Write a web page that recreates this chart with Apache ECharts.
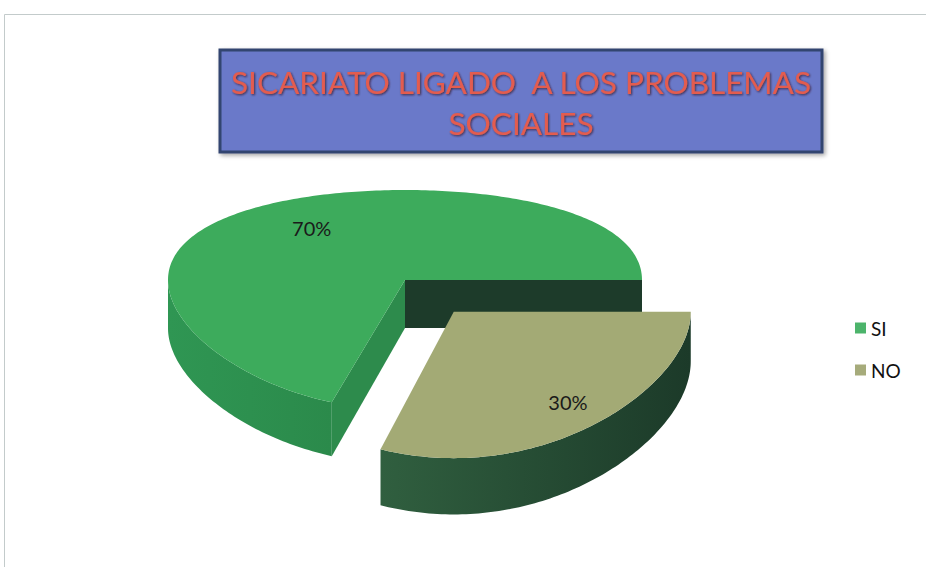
<!DOCTYPE html>
<html>
<head>
<meta charset="utf-8">
<script src="https://cdn.jsdelivr.net/npm/echarts@6/dist/echarts.min.js"></script>
<style>
html,body{margin:0;padding:0;background:#fff;}
#chart{width:926px;height:567px;}
</style>
</head>
<body>
<div id="chart"></div>
<script>
// ---- data ----
const categories = ['SI', 'NO'];
const values = [70, 30];
const titleLines = ['SICARIATO LIGADO  A LOS PROBLEMAS', 'SOCIALES'];

// ---- styles / geometry (not data) ----
const FONT = 'Lato, "Open Sans", sans-serif';
const OX = 405, OY = 280;      // screen position of pie centre (top face)
const RX = 237;                // horizontal radius
const A = 106.4, B = 0.182;    // vertical foreshortening with perspective
const T = 48;                  // thickness at centre
const EXPLODE = [0, 0.35];
const LABEL_R = [0.67, 0.82];
const SLICE_STYLE = [
  {top: '#3dab5c', outer: ['#2f9653', '#2b8a4b'], startWall: '#1d3b2a', endWall: '#2d8b4c'},
  {top: '#a3aa75', outer: ['#305f3f', '#1c3a29'], startWall: '#1d3b2a', endWall: '#2d5b3c'}
];
const LEGEND_COLORS = ['#4cb46b', '#a6ab7b'];

const total = values.reduce((s, v) => s + v, 0);
const startDeg = [], endDeg = [];
{
  let acc = 0;
  values.forEach((v) => {
    startDeg.push(acc / total * 360);
    acc += v;
    endDeg.push(acc / total * 360);
  });
}

function P(X, Zf, bottom) {
  const s = 1 / (1 + B * Zf);
  return [OX + RX * X, OY - A * Zf * s + (bottom ? T * Math.pow(s, 0.6) : 0)];
}

function makeRender(i) {
  return function (params, api) {
    const st = SLICE_STYLE[i];
    const a0 = startDeg[i], a1 = endDeg[i];
    const rad = d => d * Math.PI / 180;
    const mid = rad((a0 + a1) / 2);
    const e = EXPLODE[i];
    const cxw = e * Math.cos(mid), czw = e * Math.sin(mid);
    const pt = (deg, r, bottom) => P(cxw + r * Math.cos(rad(deg)), czw + r * Math.sin(rad(deg)), bottom);
    const children = [];
    const base = params.seriesIndex * 10;

    // radial walls (only those facing the viewer)
    if (Math.sin(rad(a0 - 90)) < 0) {
      children.push({type: 'polygon', z2: base + 1,
        shape: {points: [pt(0, 0, false), pt(a0, 1, false), pt(a0, 1, true), pt(0, 0, true)]},
        style: {fill: st.startWall}});
    }
    if (Math.sin(rad(a1 + 90)) < 0) {
      children.push({type: 'polygon', z2: base + 1,
        shape: {points: [pt(0, 0, false), pt(a1, 1, false), pt(a1, 1, true), pt(0, 0, true)]},
        style: {fill: st.endWall}});
    }
    // outer visible wall (front half)
    const v0 = Math.max(a0, 180), v1 = Math.min(a1, 360);
    if (v1 > v0) {
      const topPts = [], botPts = [];
      for (let d = v0; d <= v1 + 1e-6; d += 1) {
        topPts.push(pt(d, 1, false));
        botPts.push(pt(d, 1, true));
      }
      topPts.push(pt(v1, 1, false)); botPts.push(pt(v1, 1, true));
      children.push({type: 'polygon', z2: base + 2,
        shape: {points: topPts.concat(botPts.reverse())},
        style: {fill: new echarts.graphic.LinearGradient(0, 0, 1, 0, [
          {offset: 0, color: st.outer[0]}, {offset: 1, color: st.outer[1]}])}});
    }
    // top face
    const face = [pt(0, 0, false)];
    for (let d = a0; d <= a1 + 1e-6; d += 1) face.push(pt(d, 1, false));
    face.push(pt(a1, 1, false));
    children.push({type: 'polygon', z2: base + 3, shape: {points: face}, style: {fill: st.top}});
    // percentage label
    const lp = pt((a0 + a1) / 2, LABEL_R[i], false);
    children.push({type: 'text', z2: base + 4,
      style: {text: Math.round(api.value(0) / total * 100) + '%', x: lp[0], y: lp[1],
        align: 'center', verticalAlign: 'middle',
        font: '20px ' + FONT, fill: '#1a1a1a'}});
    return {type: 'group', children: children};
  };
}

const chart = echarts.init(document.getElementById('chart'), null, {renderer: 'svg'});
const titleStyle = {
  align: 'center', verticalAlign: 'middle',
  font: '31.5px ' + FONT, fill: '#e35c4f',
  textShadowColor: 'rgba(50,20,30,0.75)', textShadowBlur: 2, textShadowOffsetX: 1, textShadowOffsetY: 1
};
const option = {
  animation: false,
  backgroundColor: '#ffffff',
  legend: {
    data: categories,
    orient: 'vertical',
    left: 850, top: 313,
    itemWidth: 11, itemHeight: 11, itemGap: 22,
    icon: 'rect',
    textStyle: {fontSize: 19, lineHeight: 20, fontFamily: FONT, color: '#111'}
  },
  graphic: [
    {type: 'rect', z: -10, shape: {x: 4.5, y: 14.5, width: 960, height: 600},
      style: {fill: 'none', stroke: '#c3cbcb', lineWidth: 1}},
    {type: 'rect', shape: {x: 220, y: 50, width: 602, height: 102},
      style: {fill: '#6a79c9', stroke: '#31446f', lineWidth: 3,
        shadowBlur: 4, shadowColor: 'rgba(0,0,0,0.35)', shadowOffsetX: 2, shadowOffsetY: 2}},
    {type: 'text', x: 521, y: 82, style: Object.assign({text: titleLines[0]}, titleStyle)},
    {type: 'text', x: 521, y: 123, style: Object.assign({text: titleLines[1]}, titleStyle)}
  ],
  series: categories.map((name, i) => ({
    type: 'custom',
    name: name,
    coordinateSystem: 'none',
    itemStyle: {color: LEGEND_COLORS[i]},
    data: [[values[i]]],
    renderItem: makeRender(i)
  }))
};
chart.setOption(option);
</script>
</body>
</html>
